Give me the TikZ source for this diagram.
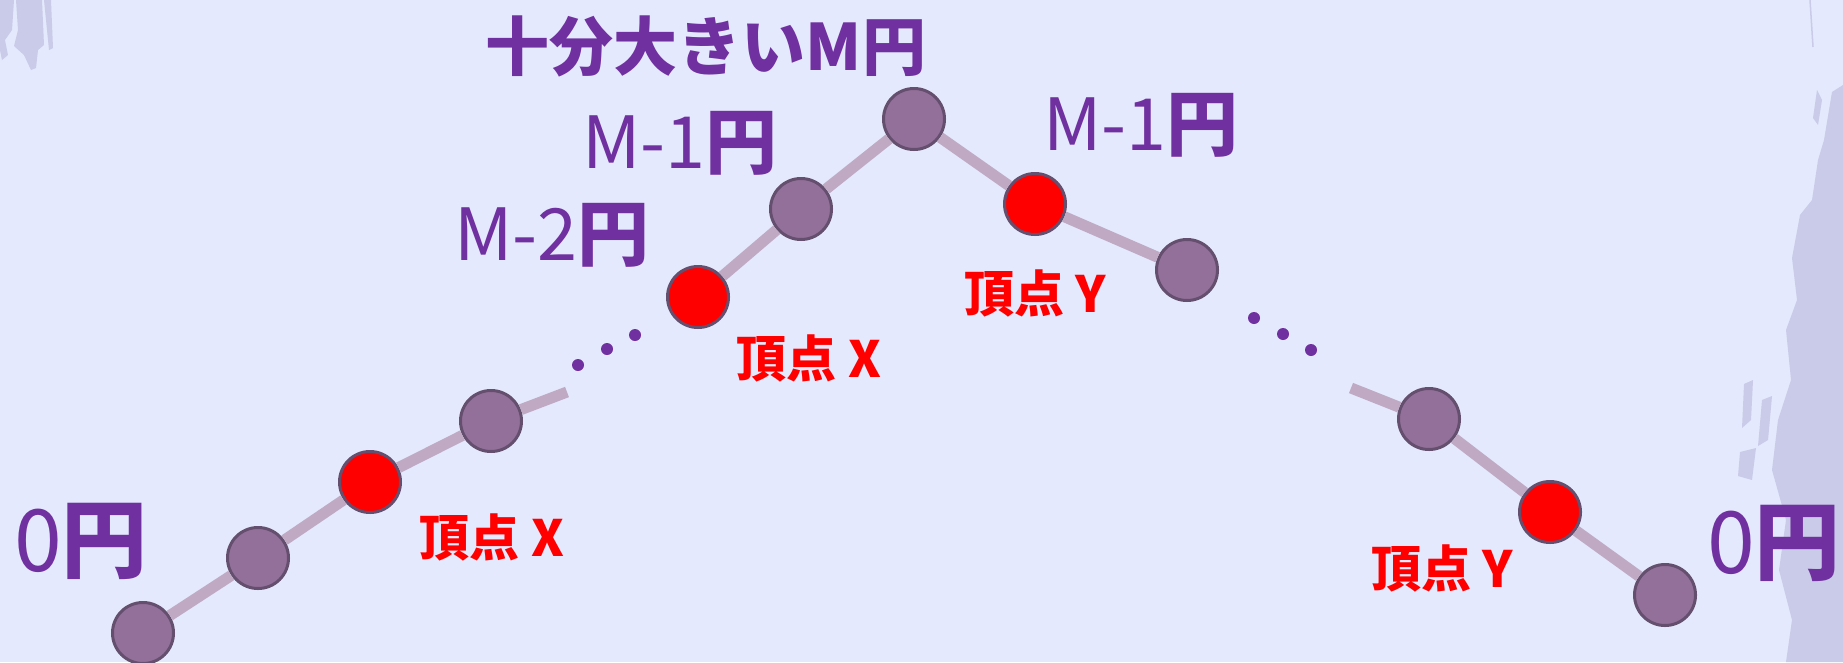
\documentclass[tikz,border=0pt]{standalone}
\usepackage{fontspec}
\newfontfamily\jpfont{Noto Sans CJK JP}

\newlength{\du}
\setlength{\du}{1pt}

\definecolor{bgcolor}{HTML}{E4E9FD}
\definecolor{brushcolor}{HTML}{CACBE8}
\definecolor{edgecolor}{HTML}{BFA9C3}
\definecolor{nodecolor}{HTML}{937099}
\definecolor{rimcolor}{HTML}{654F6F}
\definecolor{yencolor}{HTML}{7030A0}

\tikzset{
  vtx/.style={circle, draw=rimcolor, fill=nodecolor, line width=3\du, minimum size=61\du, inner sep=0pt},
  hit/.style={vtx, fill=red},
  edge/.style={draw=edgecolor, line width=11\du},
  dotmark/.style={fill=yencolor},
  price/.style={text=yencolor, inner sep=0pt, font=\jpfont\fontsize{72}{72}\selectfont},
  bigprice/.style={price, font=\jpfont\bfseries\fontsize{64}{64}\selectfont},
  zeroprice/.style={price, font=\jpfont\fontsize{86}{86}\selectfont},
  tag/.style={text=red, inner sep=0pt, font=\jpfont\bfseries\fontsize{50}{50}\selectfont},
}

\begin{document}
\begin{tikzpicture}
\pgftransformxscale{1.000000}
\pgftransformyscale{-1.000000}
\useasboundingbox (0\du,0\du) rectangle (1843\du,662\du);
\fill[bgcolor] (0\du,0\du) rectangle (1843\du,662\du);
% brush marks
\fill[brushcolor] (0\du,0\du) -- (14\du,0\du) -- (12\du,30\du) -- (5\du,40\du) -- (8\du,55\du) -- (2\du,60\du) -- (0\du,50\du) -- cycle;
\fill[brushcolor] (16\du,0\du) -- (42\du,0\du) -- (44\du,45\du) -- (38\du,50\du) -- (36\du,68\du) -- (31\du,70\du) -- (24\du,55\du) -- (14\du,46\du) -- (18\du,30\du) -- cycle;
\fill[brushcolor] (44\du,0\du) -- (51\du,0\du) -- (53\du,48\du) -- (49\du,50\du) -- cycle;
\draw[brushcolor, line width=1.5\du] (1810\du,0\du) -- (1813\du,47\du);
\fill[brushcolor] (1843\du,85\du) -- (1832\du,92\du) -- (1824\du,140\du) -- (1818\du,160\du) -- (1812\du,200\du) -- (1800\du,215\du) -- (1792\du,258\du) -- (1797\du,300\du) -- (1786\du,330\du) -- (1791\du,380\du) -- (1778\du,420\du) -- (1772\du,470\du) -- (1786\du,520\du) -- (1779\du,570\du) -- (1792\du,620\du) -- (1786\du,662\du) -- (1843\du,662\du) -- cycle;
\fill[brushcolor] (1817\du,90\du) -- (1822\du,100\du) -- (1818\du,125\du) -- (1813\du,118\du) -- cycle;
\fill[brushcolor] (1744\du,384\du) -- (1753\du,380\du) -- (1751\du,420\du) -- (1742\du,428\du) -- cycle;
\fill[brushcolor] (1762\du,400\du) -- (1772\du,396\du) -- (1768\du,440\du) -- (1758\du,446\du) -- cycle;
\fill[brushcolor] (1740\du,452\du) -- (1756\du,448\du) -- (1752\du,480\du) -- (1738\du,476\du) -- cycle;

% vertices
\node[vtx] (v1) at (143\du,633\du) {};
\node[vtx] (v2) at (258\du,558\du) {};
\node[hit] (v3) at (370\du,482\du) {};
\node[vtx] (v4) at (491\du,421\du) {};
\node[hit] (v5) at (698\du,297\du) {};
\node[vtx] (v6) at (801\du,209\du) {};
\node[vtx] (v7) at (914\du,119\du) {};
\node[hit] (v8) at (1035\du,204\du) {};
\node[vtx] (v9) at (1187\du,270\du) {};
\node[vtx] (v10) at (1429\du,419\du) {};
\node[hit] (v11) at (1550\du,512\du) {};
\node[vtx] (v12) at (1665\du,595\du) {};
\coordinate (s1) at (567\du,392\du);
\coordinate (s2) at (1351\du,388\du);

\draw[edge] (v1) -- (v2);
\draw[edge] (v2) -- (v3);
\draw[edge] (v3) -- (v4);
\draw[edge] (v4) -- (s1);
\draw[edge] (v5) -- (v6);
\draw[edge] (v6) -- (v7);
\draw[edge] (v7) -- (v8);
\draw[edge] (v8) -- (v9);
\draw[edge] (s2) -- (v10);
\draw[edge] (v10) -- (v11);
\draw[edge] (v11) -- (v12);

% dots
\fill[dotmark] (578\du,365\du) circle (6\du);
\fill[dotmark] (607\du,349\du) circle (6\du);
\fill[dotmark] (635\du,335\du) circle (6\du);
\fill[dotmark] (1254\du,318\du) circle (6\du);
\fill[dotmark] (1283\du,334\du) circle (6\du);
\fill[dotmark] (1311\du,350\du) circle (6\du);

% prices
\node[bigprice] (ptop) at (706\du,46\du) {十分大きいM円};
\node[price] (pleft) at (680\du,143\du) {M-1\textbf{円}};
\node[price] (pleft2) at (552\du,235\du) {M-2\textbf{円}};
\node[price] (pright) at (1141\du,125\du) {M-1\textbf{円}};
\node[zeroprice] (pzero1) at (81\du,541\du) {0\textbf{円}};
\node[zeroprice] (pzero2) at (1774\du,543\du) {0\textbf{円}};

% vertex tags
\node[tag] (tx1) at (492\du,537\du) {頂点 X};
\node[tag] (tx2) at (809\du,358\du) {頂点 X};
\node[tag] (ty1) at (1035\du,293\du) {頂点 Y};
\node[tag] (ty2) at (1442\du,568\du) {頂点 Y};
\end{tikzpicture}
\end{document}
